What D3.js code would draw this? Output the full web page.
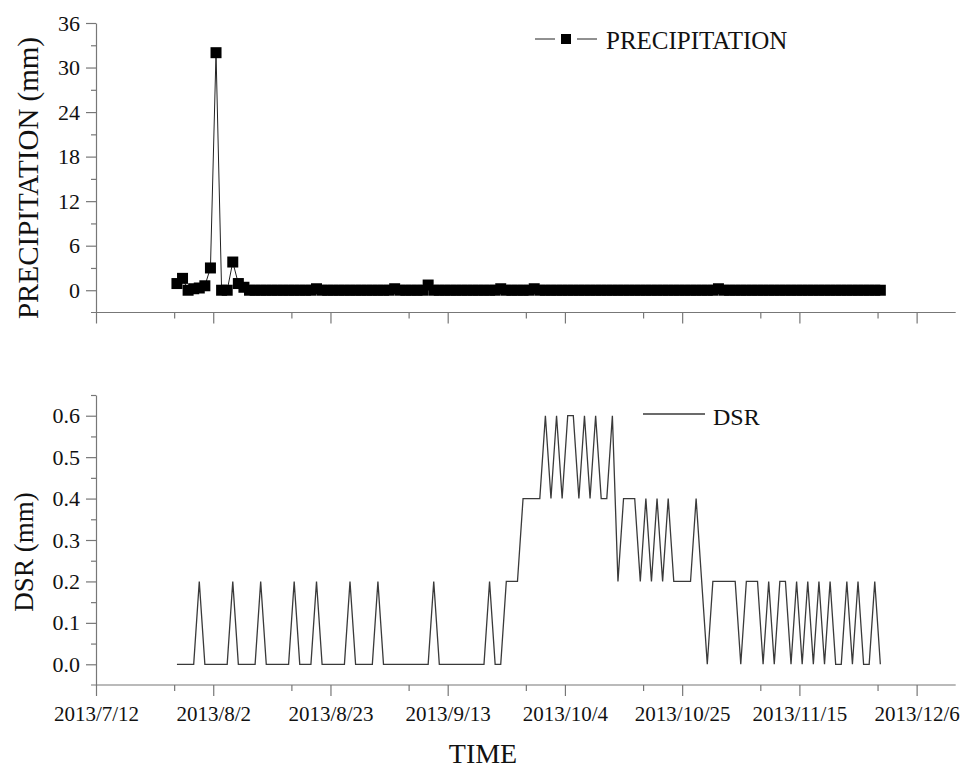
<!DOCTYPE html>
<html lang="en">

<head>
    <meta charset="utf-8">
    <title>Precipitation and DSR</title>
    <script type="text/javascript" src="https://d3js.org/d3.v7.min.js"></script>
    <style>
        body {
            margin: 0;
            background: white;
        }

        svg text {
            font-family: "Liberation Serif", "Times New Roman", serif !important;
            fill: #111;
        }

        .axis path,
        .axis line {
            stroke: #777;
            stroke-width: 1.2;
        }
    </style>
</head>

<body>
    <div id="chart"></div>
    <script type="text/javascript">
        const width = 960;
        const height = 770;
        const serif = '"Liberation Serif", "Times New Roman", serif';

        // daily series, first day 2013/7/26
        const startDay = "2013-07-26T12:00";

        const precipitation = [
            0.9, 1.6, 0, 0.2, 0.3, 0.6, 3.0, 32, 0, 0,
            3.8, 0.9, 0.4, 0, 0, 0, 0, 0, 0, 0,
            0, 0, 0, 0, 0, 0.2, 0, 0, 0, 0,
            0, 0, 0, 0, 0, 0, 0, 0, 0, 0.2,
            0, 0, 0, 0, 0, 0.7, 0, 0, 0, 0,
            0, 0, 0, 0, 0, 0, 0, 0, 0.2, 0,
            0, 0, 0, 0, 0.2, 0, 0, 0, 0, 0,
            0, 0, 0, 0, 0, 0, 0, 0, 0, 0,
            0, 0, 0, 0, 0, 0, 0, 0, 0, 0,
            0, 0, 0, 0, 0, 0, 0, 0.2, 0, 0,
            0, 0, 0, 0, 0, 0, 0, 0, 0, 0,
            0, 0, 0, 0, 0, 0, 0, 0, 0, 0,
            0, 0, 0, 0, 0, 0, 0
        ];

        const dsr = [
            0, 0, 0, 0, 0.2, 0, 0, 0, 0, 0,
            0.2, 0, 0, 0, 0, 0.2, 0, 0, 0, 0,
            0, 0.2, 0, 0, 0, 0.2, 0, 0, 0, 0,
            0, 0.2, 0, 0, 0, 0, 0.2, 0, 0, 0,
            0, 0, 0, 0, 0, 0, 0.2, 0, 0, 0,
            0, 0, 0, 0, 0, 0, 0.2, 0, 0, 0.2,
            0.2, 0.2, 0.4, 0.4, 0.4, 0.4, 0.6, 0.4, 0.6, 0.4,
            0.6, 0.6, 0.4, 0.6, 0.4, 0.6, 0.4, 0.4, 0.6, 0.2,
            0.4, 0.4, 0.4, 0.2, 0.4, 0.2, 0.4, 0.2, 0.4, 0.2,
            0.2, 0.2, 0.2, 0.4, 0.2, 0, 0.2, 0.2, 0.2, 0.2,
            0.2, 0, 0.2, 0.2, 0.2, 0, 0.2, 0, 0.2, 0.2,
            0, 0.2, 0, 0.2, 0, 0.2, 0, 0.2, 0, 0,
            0.2, 0, 0.2, 0, 0, 0.2, 0
        ];

        const dateTicks = ["2013-07-12", "2013-08-02", "2013-08-23", "2013-09-13",
            "2013-10-04", "2013-10-25", "2013-11-15", "2013-12-06"];
        const dateMinorTicks = ["2013-07-26", "2013-08-16", "2013-09-06", "2013-09-27",
            "2013-10-18", "2013-11-08", "2013-11-29"];
        const precipTicks = [0, 6, 12, 18, 24, 30, 36];
        const precipMinorTicks = [3, 9, 15, 21, 27, 33];
        const dsrTicks = [0, 0.1, 0.2, 0.3, 0.4, 0.5, 0.6];
        const dsrMinorTicks = [0.05, 0.15, 0.25, 0.35, 0.45, 0.55, 0.65];

        const parseDay = d3.timeParse("%Y-%m-%d");
        const parseStart = d3.timeParse("%Y-%m-%dT%H:%M");
        const fmt = d3.timeFormat("%Y/%-m/%-d");

        const start = parseStart(startDay);
        const days = precipitation.map((v, i) => d3.timeDay.offset(start, i));

        const svg = d3.select("#chart")
            .append("svg")
            .attr("width", width)
            .attr("height", height)
            .style("font-family", serif);

        // scales
        const x = d3.scaleTime()
            .domain([parseDay("2013-07-12"), parseDay("2013-12-13")])
            .range([96, 955.7]);
        const yTop = d3.scaleLinear().domain([-3, 36]).range([312.5, 23]);
        const yBot = d3.scaleLinear().domain([-0.05, 0.65]).range([685, 395]);

        function drawAxes(y, ticks, minor, fmtY, showDates) {
            const y0 = y.range()[0];
            // y axis
            svg.append("g")
                .attr("class", "axis")
                .attr("transform", "translate(96,0)")
                .call(d3.axisLeft(y).tickValues(ticks).tickSize(10).tickPadding(6)
                    .tickSizeOuter(0).tickFormat(fmtY))
                .attr("font-family", serif)
                .call(g => g.selectAll("text").style("font-size", "22px"));
            svg.append("g")
                .attr("class", "axis")
                .attr("transform", "translate(96,0)")
                .call(d3.axisLeft(y).tickValues(minor).tickSize(5).tickFormat(""))
                .call(g => g.select(".domain").remove());

            // x axis
            const xa = svg.append("g")
                .attr("class", "axis")
                .attr("transform", `translate(0,${y0})`)
                .call(d3.axisBottom(x).tickValues(dateTicks.map(parseDay)).tickSize(11)
                    .tickPadding(10).tickSizeOuter(0).tickFormat(showDates ? fmt : ""))
                .attr("font-family", serif)
                .call(g => g.select(".domain").remove());
            xa.selectAll("text").style("font-size", "21px");
            svg.append("g")
                .attr("class", "axis")
                .attr("transform", `translate(0,${y0})`)
                .call(d3.axisBottom(x).tickValues(dateMinorTicks.map(parseDay)).tickSize(6).tickFormat(""))
                .call(g => g.select(".domain").remove());
            svg.append("line")
                .attr("x1", x.range()[0] - 5)
                .attr("x2", x.range()[1])
                .attr("y1", y0).attr("y2", y0)
                .attr("stroke", "#777")
                .attr("stroke-width", 1.2);
        }

        drawAxes(yTop, precipTicks, precipMinorTicks, d3.format("d"), false);
        drawAxes(yBot, dsrTicks, dsrMinorTicks, d3.format(".1f"), true);

        // precipitation line + square markers
        const precipLine = d3.line()
            .x((d, i) => x(days[i]))
            .y(d => yTop(d));
        svg.append("path")
            .datum(precipitation)
            .attr("d", precipLine)
            .attr("fill", "none")
            .attr("stroke", "#222")
            .attr("stroke-width", 1);
        svg.append("g")
            .selectAll("rect")
            .data(precipitation)
            .enter()
            .append("rect")
            .attr("x", (d, i) => x(days[i]) - 5.5)
            .attr("y", d => yTop(d) - 5.5)
            .attr("width", 11)
            .attr("height", 11)
            .attr("fill", "#000");

        // DSR line
        const dsrLine = d3.line()
            .x((d, i) => x(days[i]))
            .y(d => yBot(d));
        svg.append("path")
            .datum(dsr)
            .attr("d", dsrLine)
            .attr("fill", "none")
            .attr("stroke", "#3a3a3a")
            .attr("stroke-width", 1.3);

        // legends
        svg.append("line").attr("x1", 535).attr("x2", 555).attr("y1", 39).attr("y2", 39)
            .attr("stroke", "#222").attr("stroke-width", 1);
        svg.append("rect").attr("x", 561).attr("y", 34).attr("width", 10).attr("height", 10).attr("fill", "#000");
        svg.append("line").attr("x1", 577).attr("x2", 597).attr("y1", 39).attr("y2", 39)
            .attr("stroke", "#222").attr("stroke-width", 1);
        svg.append("text").attr("x", 606).attr("y", 48.5)
            .style("font-size", "25px").text("PRECIPITATION");

        svg.append("line").attr("x1", 643).attr("x2", 705).attr("y1", 414).attr("y2", 414)
            .attr("stroke", "#3a3a3a").attr("stroke-width", 1.3);
        svg.append("text").attr("x", 713).attr("y", 424.5)
            .style("font-size", "24px").text("DSR");

        // axis titles
        svg.append("text")
            .attr("transform", "translate(38,178) rotate(-90)")
            .attr("text-anchor", "middle")
            .style("font-size", "29px")
            .text("PRECIPITATION (mm)");
        svg.append("text")
            .attr("transform", "translate(33,552) rotate(-90)")
            .attr("text-anchor", "middle")
            .style("font-size", "27px")
            .text("DSR (mm)");
        svg.append("text")
            .attr("x", 483)
            .attr("y", 763)
            .attr("text-anchor", "middle")
            .style("font-size", "28px")
            .text("TIME");
    </script>
</body>

</html>
